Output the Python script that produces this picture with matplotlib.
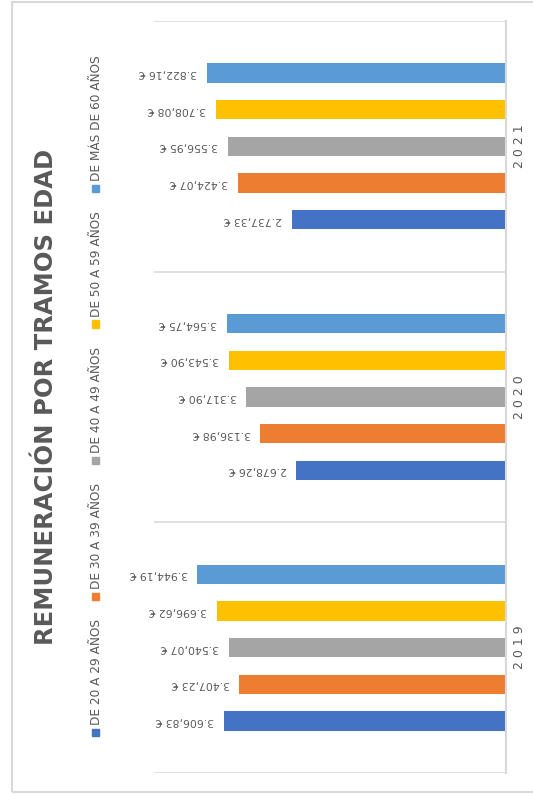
import matplotlib as mpl
mpl.use('Agg')
import matplotlib.pyplot as plt
from matplotlib.patches import Rectangle
import numpy as np

years = ['2019', '2020', '2021']
tramos = ['DE 20 A 29 AÑOS', 'DE 30 A 39 AÑOS', 'DE 40 A 49 AÑOS',
          'DE 50 A 59 AÑOS', 'DE MÁS DE 60 AÑOS']
colors = ['#4472C4', '#ED7D31', '#A5A5A5', '#FFC000', '#5B9BD5']

de_20_29 = [3606.83, 2678.26, 2737.33]
de_30_39 = [3407.23, 3136.98, 3424.07]
de_40_49 = [3540.07, 3317.90, 3556.95]
de_50_59 = [3696.62, 3543.90, 3708.08]
de_60_mas = [3944.19, 3564.75, 3822.16]
series = [de_20_29, de_30_39, de_40_49, de_50_59, de_60_mas]

W, H = 533, 794
grey_txt = '#595959'
grid_col = '#d9d9d9'


def euro(v):
    s = f'{v:,.2f}'.replace(',', 'X').replace('.', ',').replace('X', '.')
    return s + ' €'


fig = plt.figure(figsize=(W / 100, H / 100), dpi=100)
ax = fig.add_axes([154 / W, 1 - 773 / H, (505.5 - 154) / W, (773 - 21) / H])

y = np.arange(len(years))
step = 0.146
bar_h = 0.077
for i, (vals, name, c) in enumerate(zip(series, tramos, colors)):
    pos = y + (i - 2) * step
    bars = ax.barh(pos, vals, height=bar_h, color=c, label=name)
    for b, v in zip(bars, vals):
        ax.annotate(euro(v), (v, b.get_y() + b.get_height() / 2),
                    xytext=(-7, 0), textcoords='offset points',
                    rotation=180, ha='right', va='center',
                    fontsize=7.8, color=grey_txt)

ax.set_xlim(4500, 0)
ax.set_ylim(-0.5, 2.5)
for yy in np.arange(-0.5, 3, 1):
    ax.axhline(yy, color=grid_col, lw=1.2, zorder=0)
for s in ['top', 'bottom', 'left']:
    ax.spines[s].set_visible(False)
ax.spines['right'].set_color(grid_col)
ax.spines['right'].set_linewidth(1.5)
ax.set_xticks([])
ax.set_yticks([])

for yi, yr in zip(y, years):
    ax.text(1.04, yi, ' '.join(yr), transform=ax.get_yaxis_transform(), rotation=90,
            ha='center', va='center', fontsize=9, color=grey_txt)

fig.text(46 / W, 1 - 397 / H, 'REMUNERACIÓN POR TRAMOS EDAD', rotation=90,
         ha='center', va='center', fontsize=17.5, fontweight='bold', color=grey_txt)

# legend drawn by hand because it is rotated with the chart
renderer = fig.canvas.get_renderer()
leg_x = 95
cur = 732
for name, c in zip(tramos, colors):
    fig.add_artist(Rectangle(((leg_x - 3.5) / W, 1 - (cur + 3.5) / H), 7 / W, 7 / H,
                             transform=fig.transFigure, color=c))
    t = fig.text(leg_x + 1, 1 - (cur - 7) / H, name, rotation=90, ha='center',
                 va='bottom', fontsize=8.7, color=grey_txt)
    t.set_x((leg_x + 1) / W)
    ext = t.get_window_extent(renderer)
    cur = cur - 7 - ext.height - 23

fig.add_artist(Rectangle((12 / W, 2 / H), 1, 790 / H, transform=fig.transFigure,
                         fill=False, edgecolor=grid_col, lw=1.5))

fig.savefig('out.png', dpi=100)
